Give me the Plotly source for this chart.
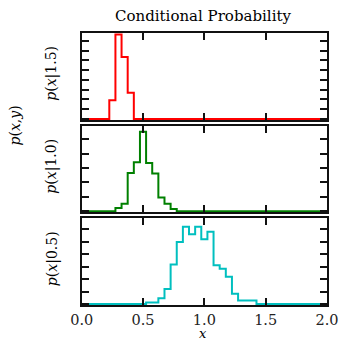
import plotly.graph_objects as go

# ---- data (41 bins, centered on multiples of 0.05 from 0.0 to 2.0) ----
bin_width = 0.05
bin_centers = [round(0.05 * i, 2) for i in range(41)]

# p(x | y=1.5)
p_x_given_15 = [0, 0, 0, 0, 0, 1.92, 8.65, 6.33, 2.69, 0,
                0, 0, 0, 0, 0, 0, 0, 0, 0, 0,
                0, 0, 0, 0, 0, 0, 0, 0, 0, 0,
                0, 0, 0, 0, 0, 0, 0, 0, 0, 0, 0]
# p(x | y=1.0)
p_x_given_10 = [0, 0, 0, 0, 0, 0, 0.22, 0.52, 2.65, 3.4,
                5.52, 3.35, 2.62, 0.96, 0.52, 0.15, 0, 0, 0, 0,
                0, 0, 0, 0, 0, 0, 0, 0, 0, 0,
                0, 0, 0, 0, 0, 0, 0, 0, 0, 0, 0]
# p(x | y=0.5)
p_x_given_05 = [0, 0, 0, 0, 0, 0, 0, 0, 0, 0,
                0, 0.05, 0.05, 0.18, 0.48, 1.27, 1.99, 2.48, 2.24, 2.48,
                2.08, 2.32, 1.24, 1.13, 0.87, 0.33, 0.11, 0.11, 0.11, 0,
                0, 0, 0, 0, 0, 0, 0, 0, 0, 0, 0]

x_ticks = [0.0, 0.5, 1.0, 1.5, 2.0]
x_tick_labels = ["0.0", "0.5", "1.0", "1.5", "2.0"]

panels = [
    # (values, colour, label, y max, tick step)
    (p_x_given_15, "#ff0000", "<i>p</i>(<i>x</i>|1.5)", 8.85, 1.0),
    (p_x_given_10, "#008000", "<i>p</i>(<i>x</i>|1.0)", 5.92, 1.0),
    (p_x_given_05, "#00bfbf", "<i>p</i>(<i>x</i>|0.5)", 2.75, 0.4),
]

W, H = 339, 342
x_dom = [81.7 / W, 327.0 / W]
y_px = [(32.5, 120.0), (126.0, 212.3), (218.3, 305.0)]

FONT = "DejaVu Serif"
fig = go.Figure()


def ann(text, px, py, angle=0, size=14):
    fig.add_annotation(text=text, x=px / W, y=1 - py / H, xref="paper",
                       yref="paper", showarrow=False, textangle=angle,
                       xanchor="center", yanchor="middle",
                       font=dict(family=FONT, size=size, color="black"))


for k, (vals, col, lab, ymax, step) in enumerate(panels):
    xs = [c - bin_width / 2 for c in bin_centers] + [bin_centers[-1] + bin_width / 2]
    ys = list(vals) + [vals[-1]]
    n = k + 1
    xa = "x" if n == 1 else f"x{n}"
    ya = "y" if n == 1 else f"y{n}"
    fig.add_trace(go.Scatter(x=xs, y=ys, mode="lines", line_shape="hv",
                             line=dict(color=col, width=2),
                             xaxis=xa, yaxis=ya, showlegend=False,
                             hoverinfo="skip"))
    top, bot = y_px[k]
    dom = [1 - bot / H, 1 - top / H]
    axis_common = dict(showline=True, linecolor="#111111", linewidth=2.2,
                       mirror="ticks", ticks="inside", ticklen=7,
                       tickwidth=1.5, tickcolor="#111111", showgrid=False,
                       zeroline=False, automargin=False)
    fig.layout[("xaxis" if n == 1 else f"xaxis{n}")] = dict(
        domain=x_dom, range=[0, 2], tickvals=x_ticks,
        ticktext=x_tick_labels, showticklabels=(n == 3),
        anchor=ya, tickfont=dict(family=FONT, size=14.5, color="#222222"),
        **axis_common)
    fig.layout[("yaxis" if n == 1 else f"yaxis{n}")] = dict(
        domain=dom, range=[-0.012 * ymax, ymax], dtick=step, tick0=0,
        showticklabels=False, anchor=xa, **axis_common)
    ann(lab, 52, (top + bot) / 2 - 2.5, angle=-90)

ann("Conditional Probability", 203, 16, size=15)
ann("<i>x</i>", 203, 333, size=13)
ann("<i>p</i>(<i>x</i>,<i>y</i>)", 14.5, 126, angle=-90)

fig.update_layout(width=W, height=H, autosize=False,
                  margin=dict(l=0, r=0, t=0, b=0, pad=0, autoexpand=False),
                  paper_bgcolor="white", plot_bgcolor="white")
fig.write_html("out.html", config={"displayModeBar": False, "responsive": False},
               post_script="document.body.style.margin='0';"
                           "document.body.style.overflow='hidden';")
